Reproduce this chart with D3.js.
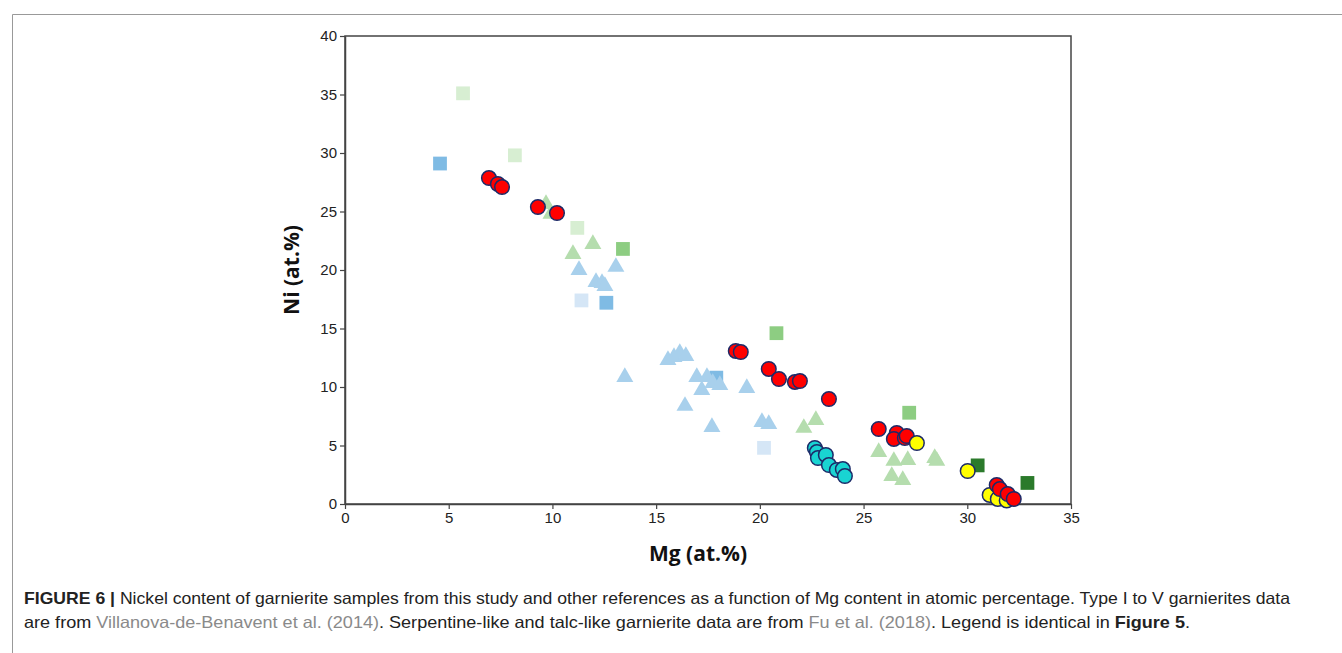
<!doctype html>
<html>
<head>
<meta charset="utf-8">
<script src="https://d3js.org/d3.v7.min.js"></script>
<style>
  body { margin: 0; background: #fff; }
  svg { display: block; }
  .tick text { font-family: "Liberation Sans", Arial, sans-serif; font-size: 15px; fill: #222; }
</style>
</head>
<body>
<svg width="1342" height="653"></svg>
<script>
// Mg (at.%) , Ni (at.%)
var xTicks = [0, 5, 10, 15, 20, 25, 30, 35];
var yTicks = [0, 5, 10, 15, 20, 25, 30, 35, 40];

var paleGreenSquares = [[5.69, 35.1], [8.19, 29.8], [11.2, 23.6]];
var blueSquares = [[4.58, 29.1], [12.6, 17.2], [17.9, 10.8]];
var paleBlueSquares = [[11.4, 17.4], [20.2, 4.8]];
var greenSquares = [[13.4, 21.8], [20.8, 14.6], [27.2, 7.8]];
var darkGreenSquares = [[30.5, 3.3], [32.9, 1.8]];

var blueTriangles = [
  [11.28, 20.0], [12.1, 18.97], [12.39, 18.89], [12.53, 18.63], [13.06, 20.26],
  [13.49, 10.85], [15.57, 12.31], [15.86, 12.56], [16.14, 12.91], [16.43, 12.65],
  [16.96, 10.85], [17.45, 10.85], [17.2, 9.74], [17.73, 10.34], [18.07, 10.17],
  [19.37, 9.91], [16.39, 8.38], [17.69, 6.58], [20.1, 7.01], [20.43, 6.84]
];
var greenTriangles = [
  [9.69, 25.64], [9.93, 24.79], [11.95, 22.22], [10.99, 21.37],
  [22.7, 7.18], [22.12, 6.5], [25.73, 4.44], [26.46, 3.68], [27.13, 3.76],
  [26.36, 2.39], [26.89, 2.05], [28.43, 3.93], [28.53, 3.68]
];

var redCircles = [
  [6.94, 27.86], [7.37, 27.35], [7.57, 27.09], [9.3, 25.38], [10.22, 24.87],
  [18.84, 13.08], [19.08, 12.99], [20.43, 11.54], [20.92, 10.68], [21.69, 10.43],
  [21.93, 10.51], [23.33, 8.97], [25.73, 6.41], [26.6, 6.07], [26.46, 5.56],
  [26.99, 5.64], [27.08, 5.81]
];
var cyanCircles = [
  [22.65, 4.79], [22.75, 4.44], [22.8, 3.93], [23.18, 4.19], [23.33, 3.33],
  [23.71, 2.91], [24.0, 2.99], [24.1, 2.39]
];
var yellowCircles = [[27.57, 5.21], [30.02, 2.82], [31.08, 0.77], [31.47, 0.43], [31.9, 0.3]];
var redCircles2 = [[31.42, 1.62], [31.57, 1.28], [31.95, 0.85], [32.24, 0.43]];

var svg = d3.select("svg");
var x = d3.scaleLinear().domain([0, 35]).range([345, 1071]);
var y = d3.scaleLinear().domain([0, 40]).range([504, 36]);

// outer figure frame
svg.append("path").attr("d", "M12.5,653 V14.5 H1342")
  .attr("fill", "none").attr("stroke", "#999").attr("stroke-width", 1);

// plot box
svg.append("rect")
  .attr("x", x(0)).attr("y", y(40))
  .attr("width", x(35) - x(0)).attr("height", y(0) - y(40))
  .attr("fill", "none").attr("stroke", "#444").attr("stroke-width", 1.5);

var gx = svg.append("g").attr("transform", "translate(0," + y(0) + ")")
  .call(d3.axisBottom(x).tickValues(xTicks).tickSize(5).tickSizeOuter(0).tickPadding(3));
var gy = svg.append("g").attr("transform", "translate(" + x(0) + ",0)")
  .call(d3.axisLeft(y).tickValues(yTicks).tickSize(5).tickSizeOuter(0).tickPadding(3));
[gx, gy].forEach(function(g) {
  g.select(".domain").attr("stroke", "#444").attr("stroke-width", 1.5);
  g.selectAll(".tick line").attr("stroke", "#444").attr("stroke-width", 1.2);
});

function drawSymbols(data, type, size, fill, stroke) {
  svg.append("g").selectAll("path").data(data).enter().append("path")
    .attr("d", d3.symbol().type(type).size(size))
    .attr("transform", function(d) { return "translate(" + x(d[0]) + "," + y(d[1]) + ")"; })
    .attr("fill", fill)
    .attr("stroke", stroke || "none");
}
function drawCircles(data, fill) {
  svg.append("g").selectAll("circle").data(data).enter().append("circle")
    .attr("cx", function(d) { return x(d[0]); })
    .attr("cy", function(d) { return y(d[1]); })
    .attr("r", 7.3)
    .attr("fill", fill)
    .attr("stroke", "#1c2a68").attr("stroke-width", 1.5);
}

drawSymbols(paleGreenSquares, d3.symbolSquare, 190, "#d7eed2");
drawSymbols(blueSquares, d3.symbolSquare, 190, "#7fbbe4");
drawSymbols(paleBlueSquares, d3.symbolSquare, 190, "#d5e6f6");
drawSymbols(greenSquares, d3.symbolSquare, 190, "#8dcd82");
drawSymbols(darkGreenSquares, d3.symbolSquare, 190, "#2b7a2b");
drawSymbols(blueTriangles, d3.symbolTriangle, 125, "#a8d0ec");
drawSymbols(greenTriangles, d3.symbolTriangle, 125, "#b5ddae");
drawCircles(redCircles, "#ff0000");
drawCircles(cyanCircles, "#19d4d2");
drawCircles(yellowCircles, "#ffff00");
drawCircles(redCircles2, "#ff0000");

// axis titles
svg.append("text")
  .attr("transform", "translate(299,270) rotate(-90)")
  .attr("text-anchor", "middle")
  .style("font-family", "'Open Sans', 'Liberation Sans', sans-serif")
  .style("font-weight", "bold").style("font-size", "21px").style("fill", "#111")
  .text("Ni (at.%)");
svg.append("text")
  .attr("x", 698).attr("y", 561)
  .attr("text-anchor", "middle")
  .style("font-family", "'Open Sans', 'Liberation Sans', sans-serif")
  .style("font-weight", "bold").style("font-size", "21px").style("fill", "#111")
  .text("Mg (at.%)");

// caption
var capFont = "'Liberation Sans', Arial, sans-serif";
var line1 = svg.append("text").attr("x", 24).attr("y", 604)
  .attr("textLength", 1266).attr("lengthAdjust", "spacingAndGlyphs")
  .style("font-family", capFont).style("font-size", "16.5px").style("fill", "#222");
line1.append("tspan").style("font-weight", "bold").text("FIGURE 6 | ");
line1.append("tspan").text("Nickel content of garnierite samples from this study and other references as a function of Mg content in atomic percentage. Type I to V garnierites data");

var line2 = svg.append("text").attr("x", 24).attr("y", 628)
  .attr("textLength", 1166).attr("lengthAdjust", "spacingAndGlyphs")
  .style("font-family", capFont).style("font-size", "16.5px").style("fill", "#222");
line2.append("tspan").text("are from ");
line2.append("tspan").style("fill", "#8a8a8a").text("Villanova-de-Benavent et al. (2014)");
line2.append("tspan").text(". Serpentine-like and talc-like garnierite data are from ");
line2.append("tspan").style("fill", "#8a8a8a").text("Fu et al. (2018)");
line2.append("tspan").text(". Legend is identical in ");
line2.append("tspan").style("font-weight", "bold").text("Figure 5");
line2.append("tspan").text(".");
</script>
</body>
</html>
